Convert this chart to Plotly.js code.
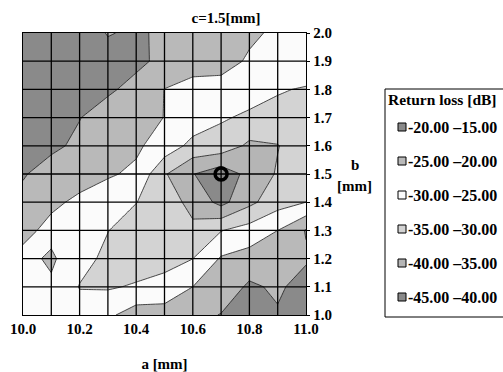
<!DOCTYPE html>
<html><head><meta charset="utf-8">
<script src="https://cdn.plot.ly/plotly-3.0.1.min.js"></script>
<style>html,body{margin:0;padding:0;background:#fff}#chart{width:503px;height:372px}</style>
</head><body><div id="chart"></div>
<script>
// a [mm] grid (x) and b [mm] grid (y)
const aValues = [10.0, 10.1, 10.2, 10.3, 10.4, 10.5, 10.6, 10.7, 10.8, 10.9, 11.0];
const bValues = [1.0, 1.1, 1.2, 1.3, 1.4, 1.5, 1.6, 1.7, 1.8, 1.9, 2.0];
// return loss [dB], one row per b value (b = 1.0 first)
const rl_b10 = [-27, -27.5, -28, -26, -22.5, -23, -21.5, -19.8, -18.5, -19.5, -18];
const rl_b11 = [-27, -25.8, -30.2, -30.5, -29.5, -28, -25, -23, -19.2, -20.8, -18];
const rl_b12 = [-26.5, -24.2, -28.5, -31, -32.5, -32, -30.05, -24.5, -23, -21.5, -20.6];
const rl_b13 = [-23.5, -26.5, -27, -29.9, -32, -33.5, -34, -30.2, -28, -25, -19.7];
const rl_b14 = [-21, -24, -26, -27.5, -29.9, -32.5, -36.5, -41.5, -36.2, -32, -30];
const rl_b15 = [-19.7, -21.5, -23, -24.5, -25.8, -34.5, -39.8, -43, -38.5, -34.5, -32];
const rl_b16 = [-18, -19.3, -20.7, -22.5, -24.3, -27, -31.5, -32, -36, -35.2, -32];
const rl_b17 = [-17, -18.5, -19.9, -21.5, -23, -25.1, -27, -29.5, -30.8, -31.5, -32];
const rl_b18 = [-16.3, -17, -18, -19.5, -21, -25.1, -27, -26.5, -28, -29.6, -30.4];
const rl_b19 = [-16, -16.5, -17.2, -18, -19.3, -20.8, -22.5, -23.5, -25.5, -26, -26.8];
const rl_b20 = [-16, -16.5, -17, -20.3, -19.2, -21, -22, -23, -24.3, -25.7, -26.5];
const returnLoss = [rl_b10, rl_b11, rl_b12, rl_b13, rl_b14, rl_b15, rl_b16, rl_b17, rl_b18, rl_b19, rl_b20];

// optimum marker
const optimumA = [10.7];
const optimumB = [1.5];

// legend bands (top to bottom)
const bandLabels = ['-20.00 \u201315.00', '-25.00 \u201320.00', '-30.00 \u201325.00', '-35.00 \u201330.00', '-40.00 \u201335.00', '-45.00 \u201340.00'];
const bandColors = ['#8a8a8a', '#b9b9b9', '#fbfbfb', '#d3d3d3', '#b5b5b5', '#8a8a8a'];

// ticks
const xTickVals = [10.0, 10.2, 10.4, 10.6, 10.8, 11.0];
const xTickText = ['10.0', '10.2', '10.4', '10.6', '10.8', '11.0'];
const yTickVals = [1.0, 1.1, 1.2, 1.3, 1.4, 1.5, 1.6, 1.7, 1.8, 1.9, 2.0];
const yTickText = ['1.0', '1.1', '1.2', '1.3', '1.4', '1.5', '1.6', '1.7', '1.8', '1.9', '2.0'];
const gridA = [10.1, 10.2, 10.3, 10.4, 10.5, 10.6, 10.7, 10.8, 10.9];
const gridB = [1.1, 1.2, 1.3, 1.4, 1.5, 1.6, 1.7, 1.8, 1.9];

const FONT = 'Liberation Serif, Times New Roman, serif';
const W = 503, H = 372;
const L = 23, R = 197, T = 33, B = 57;
const PW = W - L - R, PH = H - T - B;
const px = v => (v - L) / PW;      // pixel x -> paper x
const py = v => (H - B - v) / PH;  // pixel y -> paper y

// colour per band for the contour fill: below -45, -45..-40, ..., -20..-15, above -15
const fillBands = ['#8a8a8a', bandColors[5], bandColors[4], bandColors[3], bandColors[2], bandColors[1], bandColors[0], '#8a8a8a'];
const colorscale = fillBands.map((c, k) => [k / (fillBands.length - 1), c]);

const contour = {
  type: 'contour',
  x: aValues, y: bValues, z: returnLoss,
  autocontour: false,
  contours: {start: -45, end: -15, size: 5, coloring: 'fill', showlines: true},
  colorscale: colorscale,
  showscale: false,
  line: {color: '#1e1e1e', width: 0.8, smoothing: 0},
  hoverinfo: 'skip'
};
const marker = {
  type: 'scatter', mode: 'markers', x: optimumA, y: optimumB,
  marker: {symbol: 'circle-open', size: 12, color: '#000', line: {width: 3.5, color: '#000'}},
  showlegend: false, hoverinfo: 'skip'
};

const shapes = [];
gridA.forEach(v => shapes.push({type: 'line', xref: 'x', yref: 'paper', x0: v, x1: v, y0: 0, y1: 1, line: {color: '#000', width: 1.3}, layer: 'above'}));
gridB.forEach(v => shapes.push({type: 'line', xref: 'paper', yref: 'y', x0: 0, x1: 1, y0: v, y1: v, line: {color: '#000', width: 1.3}, layer: 'above'}));
// legend box
shapes.push({type: 'rect', xref: 'paper', yref: 'paper', x0: px(385), x1: px(507), y0: py(317), y1: py(89), line: {color: '#000', width: 1}, fillcolor: 'rgba(0,0,0,0)'});
const annotations = [];
annotations.push({xref: 'paper', yref: 'paper', x: px(386), y: py(99), xanchor: 'left', yanchor: 'middle', showarrow: false, text: 'Return loss [dB]', font: {family: FONT, size: 15.5, color: '#000', weight: 'bold'}});
bandLabels.forEach((lab, k) => {
  const cy = 127 + 34 * k;
  shapes.push({type: 'rect', xref: 'paper', yref: 'paper', x0: px(398), x1: px(406), y0: py(cy + 4), y1: py(cy - 4), line: {color: '#000', width: 1}, fillcolor: bandColors[k]});
  annotations.push({xref: 'paper', yref: 'paper', x: px(406), y: py(cy), xanchor: 'left', yanchor: 'middle', showarrow: false, text: lab, font: {family: FONT, size: 16, color: '#000', weight: 'bold'}});
});
annotations.push({xref: 'paper', yref: 'paper', x: px(355), y: py(165), xanchor: 'center', yanchor: 'middle', showarrow: false, text: 'b', font: {family: FONT, size: 15, color: '#000', weight: 'bold'}});
annotations.push({xref: 'paper', yref: 'paper', x: px(355), y: py(186), xanchor: 'center', yanchor: 'middle', showarrow: false, text: '[mm]', font: {family: FONT, size: 15, color: '#000', weight: 'bold'}});

const layout = {
  width: W, height: H,
  margin: {l: L, r: R, t: T, b: B, pad: 0, autoexpand: false},
  paper_bgcolor: '#fff', plot_bgcolor: '#fff',
  showlegend: false,
  font: {family: FONT, size: 15, color: '#000', weight: 'bold'},
  title: {text: 'c=1.5[mm]', font: {family: FONT, size: 15, color: '#000', weight: 'bold'}, xref: 'paper', x: px(226), xanchor: 'center', yref: 'container', y: 1 - 18 / H, yanchor: 'middle'},
  xaxis: {range: [10, 11], tickvals: xTickVals, ticktext: xTickText, showgrid: false, zeroline: false,
    showline: true, mirror: true, linecolor: '#000', linewidth: 1.2, ticks: '',
    tickfont: {family: FONT, size: 15, color: '#000', weight: 'bold'},
    title: {text: 'a [mm]', standoff: 22, font: {family: FONT, size: 15, color: '#000', weight: 'bold'}}},
  yaxis: {range: [1, 2], side: 'right', tickvals: yTickVals, ticktext: yTickText, showgrid: false, zeroline: false,
    showline: true, mirror: true, linecolor: '#000', linewidth: 1.2, ticks: 'outside', ticklen: 3, tickcolor: '#000',
    tickfont: {family: FONT, size: 15, color: '#000', weight: 'bold'}},
  shapes: shapes,
  annotations: annotations
};
Plotly.newPlot('chart', [contour, marker], layout, {staticPlot: true, displayModeBar: false});
</script></body></html>
